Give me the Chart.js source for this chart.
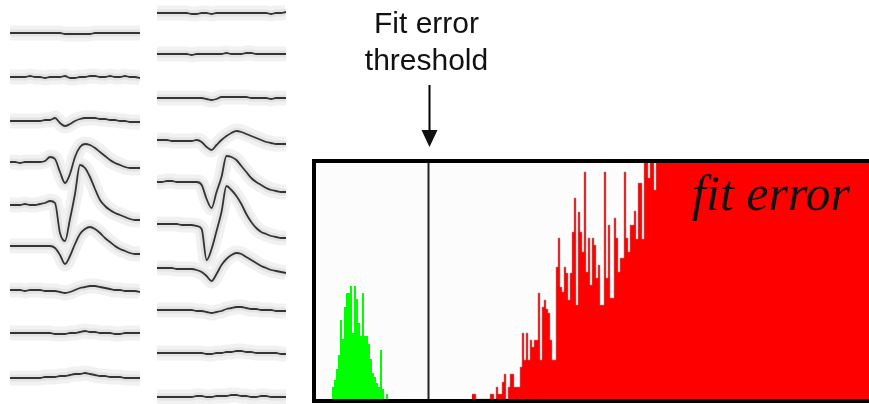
<!DOCTYPE html>
<html>
<head>
<meta charset="utf-8">
<script src="https://cdn.jsdelivr.net/npm/chart.js@4"></script>
<style>
  html, body { margin: 0; padding: 0; background: #fff; overflow: hidden; }
  body { width: 869px; height: 404px; position: relative; }
  canvas { position: absolute; top: 0; }
  #ondas1 { left: 10px; }
  #ondas2 { left: 157px; }
  #histograma { left: 300px; }
</style>
</head>
<body>
<canvas id="ondas1" width="130" height="404"></canvas>
<canvas id="ondas2" width="129" height="404"></canvas>
<canvas id="histograma" width="574" height="404"></canvas>
<script>
// waveforms: row of each channel (px from top) and mean shape (up = positive)
const linhas1 = [33, 77, 121, 162, 205, 246, 290, 333, 378];
const ondas1 = [
  [0,0,0,0,0,0,0,0,0,0,0,-1,-1,-1,-1,-1,-1,0,0,0,0,0,0,0,0,0,0],
  [0,0,0,0,1,0,0,-1,0,0,0,1,-1,-1,0,0,1,1,0,0,1,0,0,1,0,0,-1],
  [0,0,0,0,0,0,0,1,1,3,-2,-5,-3,0,2,3,3,3,2,2,1,1,0,0,-1,-1,-1],
  [0,0,-1,0,0,0,0,1,5,3,-10,-21,-12,5,15,18,17,14,10,6,2,-1,-3,-5,-6,-6,-6],
  [0,0,0,1,0,0,1,2,4,2,-28,-36,-14,11,40,37,28,16,5,-1,-5,-8,-10,-12,-14,-15,-15],
  [0,0,0,0,0,0,0,0,0,-2,-9,-18,-10,2,12,17,19,17,13,8,4,0,-3,-5,-7,-8,-8],
  [0,0,0,-1,0,0,0,-1,-1,-1,-2,-3,-2,0,2,3,4,4,3,2,1,0,0,-1,-1,-1,-2],
  [0,0,0,0,0,0,0,0,0,-1,-1,-1,0,0,1,2,1,1,0,0,0,-1,-1,0,0,0,0],
  [0,0,0,0,0,0,0,1,1,1,2,2,3,4,4,5,4,3,2,2,1,1,1,0,0,0,0]
];

const linhas2 = [13, 54, 98, 140, 182, 224, 268, 310, 353, 397];
const ondas2 = [
  [0,0,0,0,0,0,0,-1,-1,0,0,-1,0,0,0,0,0,0,0,0,0,0,0,-1,0,0,1],
  [0,0,0,0,0,0,0,-1,0,0,0,0,0,0,1,0,0,0,1,1,0,0,0,0,0,0,0],
  [0,0,0,0,0,0,0,0,0,0,-1,-2,-1,1,1,1,1,1,1,0,0,0,0,-1,0,0,0],
  [0,0,0,-1,-1,-1,-1,-1,0,-2,-7,-10,-5,0,4,7,9,8,6,4,2,0,-2,-3,-4,-4,-4],
  [0,0,1,1,0,0,0,0,0,-3,-17,-26,-10,5,26,25,22,16,10,4,0,-3,-6,-8,-9,-10,-10],
  [0,0,0,0,0,-1,-1,-1,-2,-5,-36,-25,-7,12,38,34,28,20,10,2,-4,-8,-10,-12,-13,-14,-14],
  [0,0,0,0,-1,-1,-1,-1,-2,-4,-8,-13,-6,3,9,13,15,14,11,8,5,2,0,-2,-3,-4,-5],
  [0,0,0,0,0,0,0,0,-1,-1,-2,-3,-2,-1,1,2,3,3,2,1,1,0,0,0,-1,-1,-1],
  [0,0,0,0,0,0,0,0,0,0,-1,-1,0,0,1,1,2,2,1,1,0,0,0,0,0,-1,-1],
  [0,0,0,0,0,0,0,0,1,1,0,0,1,1,1,2,2,1,1,0,0,1,1,0,0,0,0]
];

// fit error histogram (bin index, counts)
const verdeInicio = 8;
const verdeContagens = [12, 19, 30, 44, 79, 60, 92, 106, 106, 113, 66, 113, 100, 76, 63, 106, 63, 63, 55, 40, 26, 22, 16, 12, 49, 10, 0, 5];
const vermelhoInicio = 78;
const vermelhoContagens = [5, 5, 0, 0, 0, 0, 0, 0, 0, 5, 5, 0, 12, 5, 5, 17, 25, 0, 12, 25, 25, 12, 12, 12,
  32, 66, 39, 66, 39, 59, 52, 59, 59, 106, 39, 92, 99, 90, 86, 59, 39, 39, 132, 161, 112, 107, 132, 126,
  99, 126, 167, 201, 94, 187, 167, 147, 227, 127, 161, 114, 161, 154, 121, 134, 94, 94, 227, 121, 174, 101,
  101, 181, 161, 127, 141, 141, 227, 161, 147, 174, 174, 188, 160, 216, 216, 160, 250, 250, 221, 250, 250, 209];
const vermelhoCauda = 250;   // saturated bins to the right
const totalBins = 279;
const contagemMax = 236;
const limiar = 56.25;

function montarOndas(id, linhas, ondas) {
  const pontos = (onda, c) => onda.map((v, i) => ({ x: i, y: linhas[c] - v }));
  const halo = ondas.map((onda, c) => ({
    data: pontos(onda, c),
    borderColor: "#f1f1f1",
    borderWidth: 15,
    order: 2
  }));
  const fundo = ondas.map((onda, c) => ({
    data: pontos(onda, c),
    borderColor: "#e3e3e3",
    borderWidth: 7,
    order: 1
  }));
  const medias = ondas.map((onda, c) => ({
    data: pontos(onda, c),
    borderColor: "#333",
    borderWidth: 1.8,
    order: 0
  }));

  new Chart(document.getElementById(id), {
    type: "line",
    data: { datasets: [...halo, ...fundo, ...medias] },
    options: {
      responsive: false,
      animation: false,
      layout: { padding: 0 },
      elements: { point: { radius: 0 }, line: { tension: 0.4, cubicInterpolationMode: "monotone" } },
      plugins: { legend: { display: false }, tooltip: { enabled: false } },
      scales: {
        x: { type: "linear", display: false, min: 0, max: 26 },
        y: { display: false, min: 0, max: 404, reverse: true }
      }
    }
  });
}

function pontosHistograma(inicio, contagens) {
  return contagens.map((c, i) => ({ x: inicio + i, y: c }));
}

const moldura = {
  id: "moldura",
  beforeDatasetsDraw(chart) {
    const { ctx, chartArea: a } = chart;
    ctx.save();
    ctx.fillStyle = "#fcfcfc";
    ctx.fillRect(a.left, a.top, a.right - a.left, a.bottom - a.top);
    ctx.restore();
  },
  afterDraw(chart) {
    const { ctx, chartArea: a, scales } = chart;
    const xl = Math.round(scales.x.getPixelForValue(limiar)) + 0.5;
    ctx.save();
    ctx.strokeStyle = "#000";
    ctx.lineWidth = 4;
    ctx.strokeRect(a.left - 2, a.top - 2, a.right - a.left + 4, a.bottom - a.top + 4);

    // italic label inside the box
    ctx.fillStyle = "#111";
    ctx.font = 'italic 50px "Liberation Serif"';
    ctx.textAlign = "right";
    ctx.fillText("fit error", a.right - 24, a.top + 47);

    // threshold label and arrow
    ctx.font = '30px "Liberation Sans"';
    ctx.textAlign = "center";
    ctx.fillText("Fit error", xl - 3, 33);
    ctx.fillText("threshold", xl - 3, 70);
    ctx.lineWidth = 2;
    ctx.beginPath();
    ctx.moveTo(xl, 85);
    ctx.lineTo(xl, 132);
    ctx.stroke();
    ctx.beginPath();
    ctx.moveTo(xl - 8, 130);
    ctx.lineTo(xl + 8, 130);
    ctx.lineTo(xl, a.top - 16);
    ctx.closePath();
    ctx.fill();
    ctx.restore();
  }
};

function montarHistograma() {
  const verde = pontosHistograma(verdeInicio, verdeContagens);
  verde.push({ x: verdeInicio + verdeContagens.length, y: 0 });
  const vermelho = pontosHistograma(vermelhoInicio, vermelhoContagens);
  vermelho.push({ x: vermelhoInicio + vermelhoContagens.length, y: vermelhoCauda });
  vermelho.push({ x: totalBins, y: vermelhoCauda });

  new Chart(document.getElementById("histograma"), {
    type: "line",
    data: {
      datasets: [
        {
          data: [{ x: limiar, y: 0 }, { x: limiar, y: contagemMax }],
          borderColor: "#222",
          borderWidth: 2,
          fill: false
        },
        {
          data: verde,
          stepped: "before",
          fill: "origin",
          backgroundColor: "#00ff00",
          borderColor: "rgba(0,0,0,0)",
          borderWidth: 1
        },
        {
          data: vermelho,
          stepped: "before",
          fill: "origin",
          backgroundColor: "#ff0000",
          borderColor: "rgba(150,150,150,0.55)",
          borderWidth: 1
        }
      ]
    },
    options: {
      responsive: false,
      animation: false,
      layout: { padding: { left: 16, top: 163, right: 0, bottom: 5 } },
      elements: { point: { radius: 0 }, line: { tension: 0 } },
      plugins: { legend: { display: false }, tooltip: { enabled: false } },
      scales: {
        x: { type: "linear", display: false, min: 0, max: totalBins },
        y: { display: false, min: 0, max: contagemMax }
      }
    },
    plugins: [moldura]
  });
}

montarOndas("ondas1", linhas1, ondas1);
montarOndas("ondas2", linhas2, ondas2);
montarHistograma();
</script>
</body>
</html>
